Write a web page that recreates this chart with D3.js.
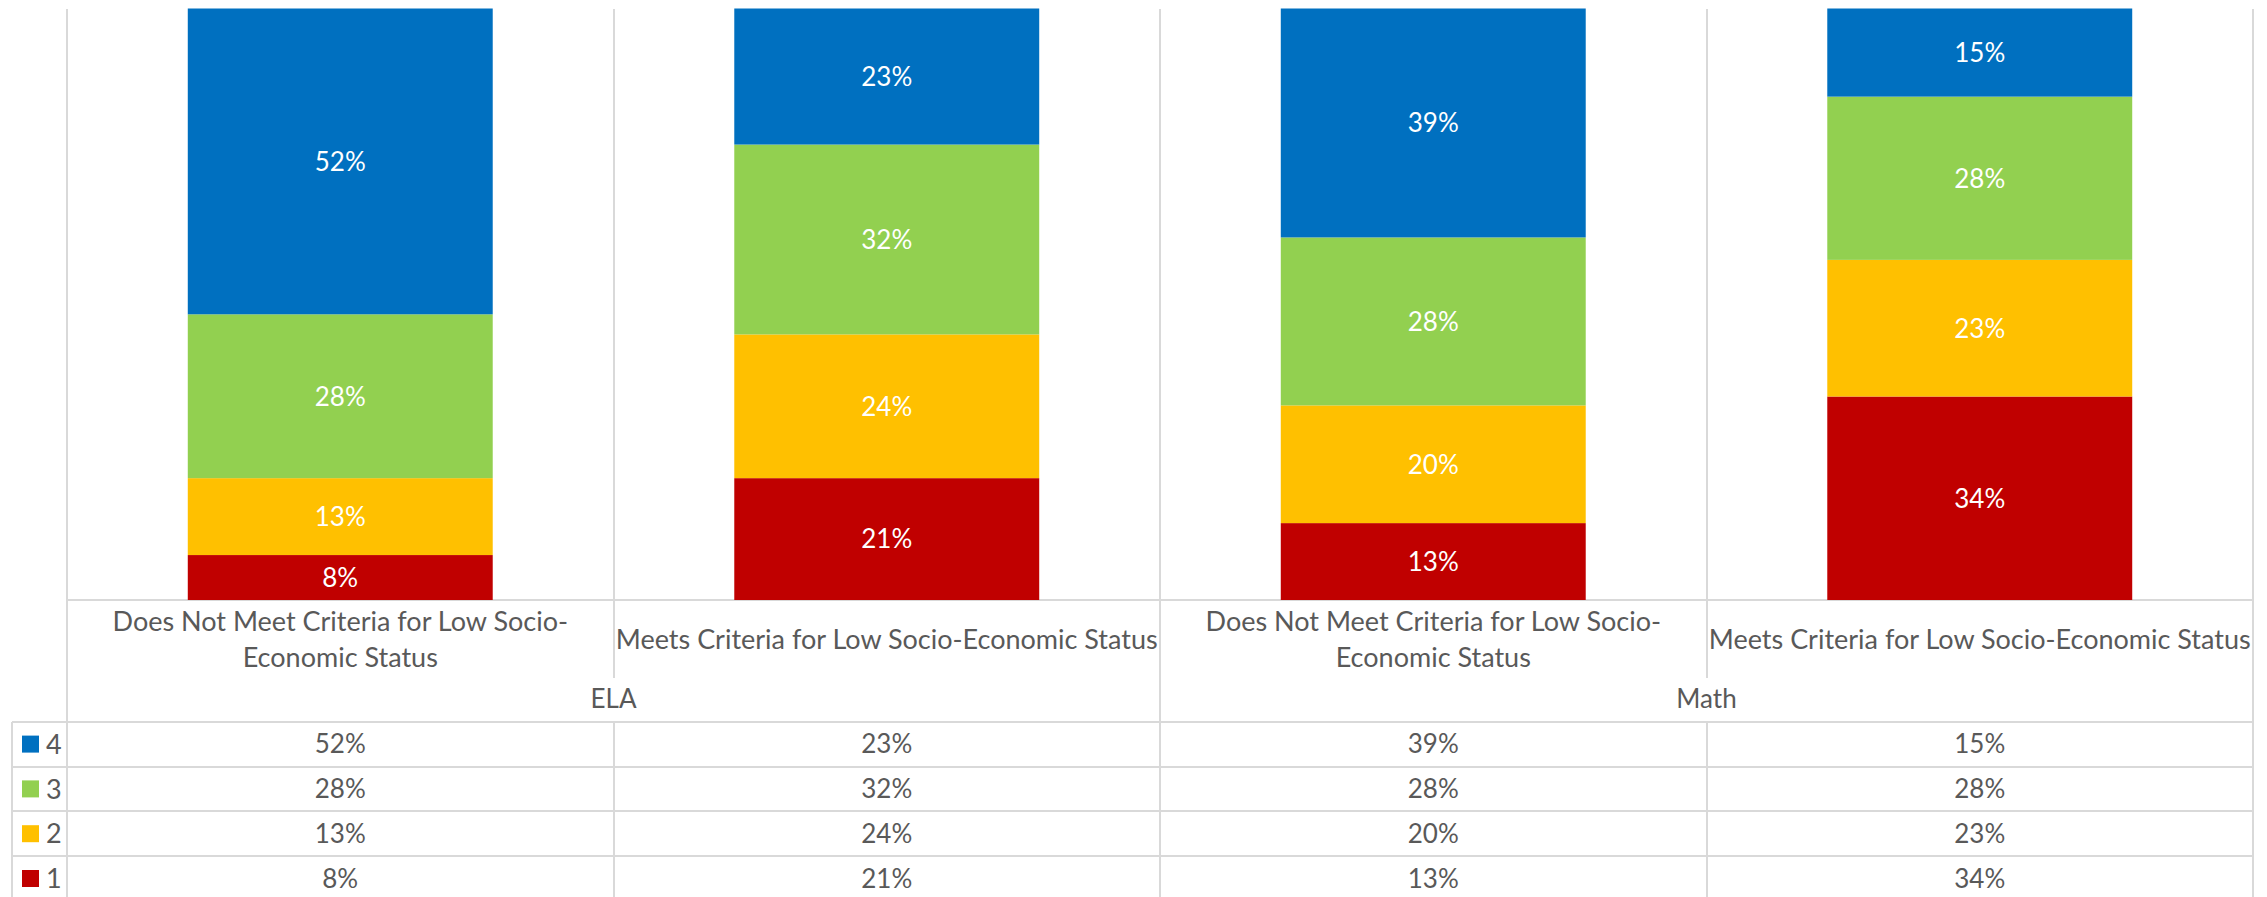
<!DOCTYPE html>
<html>
<head>
    <meta charset="UTF-8">
    <title>stacked levels</title>
    <style>
        body { margin: 0; background: #fff; }
        text { font-family: Lato, "Open Sans", sans-serif; fill: #595959; }
        .grid { stroke: #d9d9d9; stroke-width: 2px; shape-rendering: crispEdges; }
        .seg-label { fill: #fff; }
    </style>
</head>
<body>
<svg width="2267" height="897"></svg>
<script src="https://cdn.jsdelivr.net/npm/d3@7"></script>
<script>

    // categories (inner) and groups (outer)
    var categories = [
        "Does Not Meet Criteria for Low Socio-Economic Status",
        "Meets Criteria for Low Socio-Economic Status",
        "Does Not Meet Criteria for Low Socio-Economic Status",
        "Meets Criteria for Low Socio-Economic Status"
    ];
    var groups = ["ELA", "Math"];
    var levels = ["1", "2", "3", "4"];

    // share of students per level, one value per category
    var level1 = [0.076, 0.206, 0.130, 0.344];
    var level2 = [0.130, 0.243, 0.199, 0.231];
    var level3 = [0.277, 0.321, 0.284, 0.276];
    var level4 = [0.517, 0.230, 0.387, 0.149];

    var colors = {"1": "#c00000", "2": "#ffc000", "3": "#92d050", "4": "#0070c0"};

    var table = categories.map(function (c, i) {
        return {i: i, "1": level1[i], "2": level2[i], "3": level3[i], "4": level4[i]};
    });

    var svg = d3.select("svg");
    // note: "top" is taken by window.top, so plotTop
    var plotLeft = 67, plotRight = 2253, plotTop = 8.5, base = 600;
    var catRowBottom = 678, tableTop = 721.7, rowH = 44.8;
    var pct = d3.format(".0%");

    var col = d3.scaleBand().domain(d3.range(categories.length)).range([plotLeft, plotRight]);
    var x = d3.scaleBand().domain(d3.range(categories.length)).range([plotLeft, plotRight])
            .paddingInner(0.442).paddingOuter(0.221);
    var grp = d3.scaleBand().domain(groups).range([plotLeft, plotRight]);
    var y = d3.scaleLinear().domain([0, 1]).range([base, plotTop]);

    var stack = d3.stack().keys(levels)(table);

    // grid lines
    var g = svg.append("g");
    var bounds = d3.range(categories.length + 1).map(function (i) {
        return i < categories.length ? col(i) : plotRight;
    });
    bounds.forEach(function (bx, i) {
        var full = (i % 2 === 0);
        g.append("line").attr("class", "grid")
                .attr("x1", bx).attr("x2", bx)
                .attr("y1", plotTop).attr("y2", full ? 897 : catRowBottom);
        if (!full) {
            g.append("line").attr("class", "grid")
                    .attr("x1", bx).attr("x2", bx)
                    .attr("y1", tableTop).attr("y2", 897);
        }
    });
    g.append("line").attr("class", "grid")
            .attr("x1", 12).attr("x2", 12).attr("y1", tableTop).attr("y2", 897);
    g.append("line").attr("class", "grid")
            .attr("x1", plotLeft).attr("x2", plotRight).attr("y1", base).attr("y2", base);
    d3.range(levels.length).forEach(function (r) {
        g.append("line").attr("class", "grid")
                .attr("x1", 12).attr("x2", plotRight)
                .attr("y1", tableTop + r * rowH).attr("y2", tableTop + r * rowH);
    });

    // bars
    var layers = svg.append("g").selectAll("g")
            .data(stack).enter().append("g")
            .attr("fill", function (d) { return colors[d.key]; });

    layers.selectAll("rect")
            .data(function (d) { return d; })
            .enter().append("rect")
            .attr("x", function (d) { return x(d.data.i); })
            .attr("width", x.bandwidth())
            .attr("y", function (d) { return y(d[1]); })
            .attr("height", function (d) { return y(d[0]) - y(d[1]); });

    layers.selectAll("text")
            .data(function (d) { return d; })
            .enter().append("text")
            .attr("class", "seg-label")
            .attr("x", function (d) { return x(d.data.i) + x.bandwidth() / 2; })
            .attr("y", function (d) { return (y(d[0]) + y(d[1])) / 2; })
            .attr("dy", "0.36em")
            .attr("text-anchor", "middle")
            .style("font-size", "26px")
            .text(function (d) { return pct(d[1] - d[0]); });

    // category labels, wrapped at spaces and hyphens
    function wrap(str, width, size) {
        var parts = str.match(/[^\s-]+-?/g);
        var probe = svg.append("text").style("font-size", size + "px");
        var lines = [], cur = "";
        parts.forEach(function (p) {
            var test = cur === "" ? p : (/-$/.test(cur) ? cur + p : cur + " " + p);
            probe.text(test);
            if (cur !== "" && probe.node().getComputedTextLength() > width) {
                lines.push(cur);
                cur = p;
            } else {
                cur = test;
            }
        });
        lines.push(cur);
        probe.remove();
        return lines;
    }

    var catSize = 27, lineH = 35.7;
    categories.forEach(function (c, i) {
        var lines = wrap(c, col.bandwidth() - 4, catSize);
        var t = svg.append("text")
                .attr("text-anchor", "middle")
                .style("font-size", catSize + "px");
        var y0 = 648.8 - (lines.length - 1) * lineH / 2;
        lines.forEach(function (l, k) {
            t.append("tspan")
                    .attr("x", col(i) + col.bandwidth() / 2)
                    .attr("y", y0 + k * lineH)
                    .text(l);
        });
    });

    groups.forEach(function (gname) {
        svg.append("text")
                .attr("x", grp(gname) + grp.bandwidth() / 2)
                .attr("y", 707.7)
                .attr("text-anchor", "middle")
                .style("font-size", "26px")
                .text(gname);
    });

    // data table with legend keys, top row is level 4
    var rows = levels.slice().reverse();
    rows.forEach(function (lv, r) {
        var cy = tableTop + r * rowH + rowH / 2;
        svg.append("rect")
                .attr("x", 22).attr("y", cy - 8.5)
                .attr("width", 17).attr("height", 17)
                .attr("fill", colors[lv]);
        svg.append("text")
                .attr("x", 46).attr("y", cy).attr("dy", "0.36em")
                .style("font-size", "27px")
                .text(lv);
        table.forEach(function (d) {
            svg.append("text")
                    .attr("x", col(d.i) + col.bandwidth() / 2)
                    .attr("y", cy).attr("dy", "0.36em")
                    .attr("text-anchor", "middle")
                    .style("font-size", "26px")
                    .text(pct(d[lv]));
        });
    });

</script>
</body>
</html>
